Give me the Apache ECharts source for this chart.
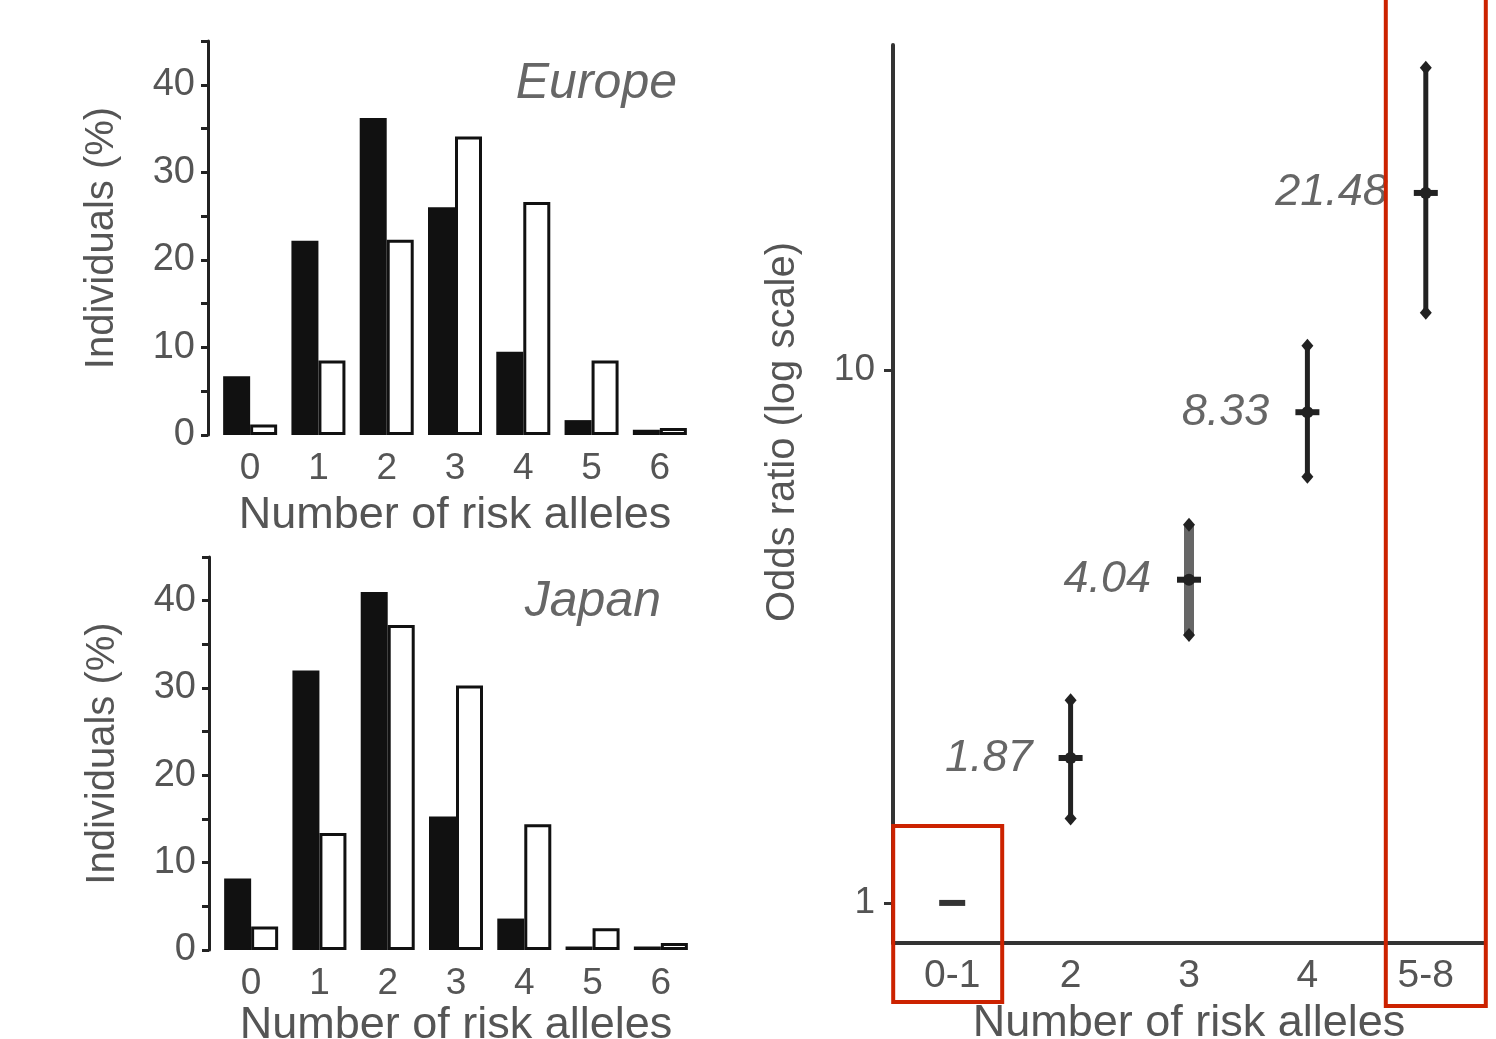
<!DOCTYPE html>
<html>
<head>
<meta charset="utf-8">
<script src="https://cdn.jsdelivr.net/npm/echarts@6/dist/echarts.min.js"></script>
<style>
  html, body { margin: 0; padding: 0; background: #fff; }
  #chart { width: 1496px; height: 1039px; }
</style>
</head>
<body>
<div id="chart"></div>
<script>
// allele counts on the two histograms
const alleleCats = ['0', '1', '2', '3', '4', '5', '6']
// Europe, % of individuals (black = cases, white = controls)
const europeCases = [6.7, 22.2, 36.2, 26.0, 9.5, 1.7, 0.6]
const europeControls = [1.2, 8.5, 22.3, 34.1, 26.6, 8.5, 0.8]
// Japan
const japanCases = [8.2, 32.0, 41.0, 15.3, 3.6, 0.4, 0.4]
const japanControls = [2.7, 13.4, 37.2, 30.3, 14.4, 2.5, 0.8]

// odds ratio panel
const orCats = ['0-1', '2', '3', '4', '5-8']
const orValues = [1, 1.87, 4.04, 8.33, 21.48]
const orLow = [null, 1.44, 3.18, 6.3, 12.8]
const orHigh = [null, 2.4, 5.12, 11.1, 36.9]
const orLabels = ['', '1.87', '4.04', '8.33', '21.48']
const orTicks = [1, 10]

const font = 'Liberation Sans'
const textGray = '#555'
const lineDark = '#222'

function histXAxis(gridIndex, gap) {
  return {
    type: 'category',
    gridIndex,
    data: alleleCats,
    axisLine: { show: false },
    axisTick: { show: false },
    axisLabel: { fontSize: 37, color: textGray, fontFamily: font, margin: 15 },
    name: 'Number of risk alleles',
    nameLocation: 'middle',
    nameGap: gap,
    nameTextStyle: { fontSize: 45, color: textGray, fontFamily: font }
  }
}

function histYAxis(gridIndex) {
  return {
    type: 'value',
    gridIndex,
    min: 0,
    max: 45,
    interval: 5,
    offset: 8,
    splitLine: { show: false },
    axisLine: { show: true, lineStyle: { color: lineDark, width: 3 } },
    axisTick: { show: true, length: 7, lineStyle: { color: lineDark, width: 3 } },
    axisLabel: {
      fontSize: 38, color: textGray, fontFamily: font, margin: 13,
      formatter: v => (v % 10 === 0 ? String(v) : '')
    },
    name: 'Individuals (%)',
    nameLocation: 'middle',
    nameRotate: 90,
    nameGap: 86,
    nameTextStyle: { fontSize: 40, color: textGray, fontFamily: font }
  }
}

function histSeries(idx, cases, controls) {
  return [
    {
      type: 'bar',
      xAxisIndex: idx,
      yAxisIndex: idx,
      data: cases,
      barWidth: 27,
      barGap: '0%',
      itemStyle: { color: '#111' }
    },
    {
      type: 'bar',
      xAxisIndex: idx,
      yAxisIndex: idx,
      data: controls,
      barWidth: 27,
      barGap: '0%',
      itemStyle: { color: '#fff', borderColor: '#111', borderWidth: 3 }
    }
  ]
}

function renderOr(params, api) {
  const i = params.dataIndex
  const center = api.coord([api.value(0), api.value(1)])
  const x = center[0]
  const children = []
  if (orLow[i] == null) {
    // reference group, drawn as a short dash
    children.push({
      type: 'rect',
      shape: { x: x - 13, y: center[1] - 3, width: 26, height: 6 },
      style: { fill: '#333' }
    })
    return { type: 'group', children }
  }
  const top = api.coord([api.value(0), api.value(3)])[1]
  const bot = api.coord([api.value(0), api.value(2)])[1]
  const thick = i === 2
  children.push({
    type: 'line',
    shape: { x1: x, y1: top, x2: x, y2: bot },
    style: { stroke: thick ? '#666' : '#222', lineWidth: thick ? 10 : 5 }
  })
  ;[top, bot].forEach(y => {
    children.push({
      type: 'polygon',
      shape: { points: [[x, y - 7], [x + 6, y], [x, y + 7], [x - 6, y]] },
      style: { fill: '#222' }
    })
  })
  children.push({
    type: 'rect',
    shape: { x: x - 12, y: center[1] - 3, width: 24, height: 6 },
    style: { fill: '#222' }
  })
  children.push({
    type: 'circle',
    shape: { cx: x, cy: center[1], r: 6 },
    style: { fill: '#222' }
  })
  children.push({
    type: 'text',
    x: x - 38,
    y: center[1],
    style: {
      text: orLabels[i],
      fontSize: 45,
      fontStyle: 'italic',
      fontFamily: font,
      fill: '#666',
      align: 'right',
      verticalAlign: 'middle'
    }
  })
  return { type: 'group', children }
}

const chart = echarts.init(document.getElementById('chart'))

chart.setOption({
  animation: false,
  backgroundColor: '#fff',
  title: [
    {
      text: 'Europe', right: 814, top: 54,
      textStyle: { fontSize: 50, fontStyle: 'italic', fontWeight: 'normal', color: '#666', fontFamily: font }
    },
    {
      text: 'Japan', right: 830, top: 572,
      textStyle: { fontSize: 50, fontStyle: 'italic', fontWeight: 'normal', color: '#666', fontFamily: font }
    }
  ],
  grid: [
    { left: 216, top: 41, width: 478, height: 394, outerBoundsMode: 'none', containLabel: false },
    { left: 217, top: 557, width: 478, height: 393, outerBoundsMode: 'none', containLabel: false },
    { left: 893, top: 45, width: 592, height: 898, outerBoundsMode: 'none', containLabel: false }
  ],
  xAxis: [
    histXAxis(0, 58),
    histXAxis(1, 52),
    {
      type: 'category',
      gridIndex: 2,
      data: orCats,
      axisLine: { show: true, lineStyle: { color: '#333', width: 4 } },
      axisTick: { show: false },
      axisLabel: { fontSize: 39, color: textGray, fontFamily: font, margin: 14 },
      name: 'Number of risk alleles',
      nameLocation: 'middle',
      nameGap: 57,
      nameTextStyle: { fontSize: 45, color: textGray, fontFamily: font }
    }
  ],
  yAxis: [
    histYAxis(0),
    histYAxis(1),
    {
      type: 'log',
      gridIndex: 2,
      logBase: 10,
      min: 0.841,
      max: 40.7,
      splitLine: { show: false },
      axisLine: { show: true, lineStyle: { color: '#333', width: 4 } },
      axisTick: { show: true, length: 9, customValues: orTicks, lineStyle: { color: '#333', width: 3 } },
      axisLabel: { fontSize: 37, color: textGray, fontFamily: font, margin: 18, customValues: orTicks },
      name: 'Odds ratio (log scale)',
      nameLocation: 'middle',
      nameRotate: 90,
      nameGap: 90,
      nameTextStyle: { fontSize: 40, color: textGray, fontFamily: font, padding: [0, 0, 0, 124] }
    }
  ],
  series: [
    ...histSeries(0, europeCases, europeControls),
    ...histSeries(1, japanCases, japanControls),
    {
      type: 'custom',
      xAxisIndex: 2,
      yAxisIndex: 2,
      renderItem: renderOr,
      data: orCats.map((c, i) => [c, orValues[i], orLow[i] == null ? orValues[i] : orLow[i], orHigh[i] == null ? orValues[i] : orHigh[i]]),
      z: 5
    }
  ]
})

// red highlight boxes around the 0-1 and 5-8 groups
const xFirst = chart.convertToPixel({ xAxisIndex: 2 }, '0-1')
const xLast = chart.convertToPixel({ xAxisIndex: 2 }, '5-8')
chart.setOption({
  graphic: [
    {
      type: 'rect',
      shape: { x: xFirst - 59, y: 826, width: 109, height: 176 },
      style: { fill: 'none', stroke: '#cc2200', lineWidth: 4 },
      z: 10
    },
    {
      type: 'rect',
      shape: { x: xLast - 40, y: -10, width: 100, height: 1016 },
      style: { fill: 'none', stroke: '#cc2200', lineWidth: 4 },
      z: 10
    }
  ]
})
</script>
</body>
</html>
